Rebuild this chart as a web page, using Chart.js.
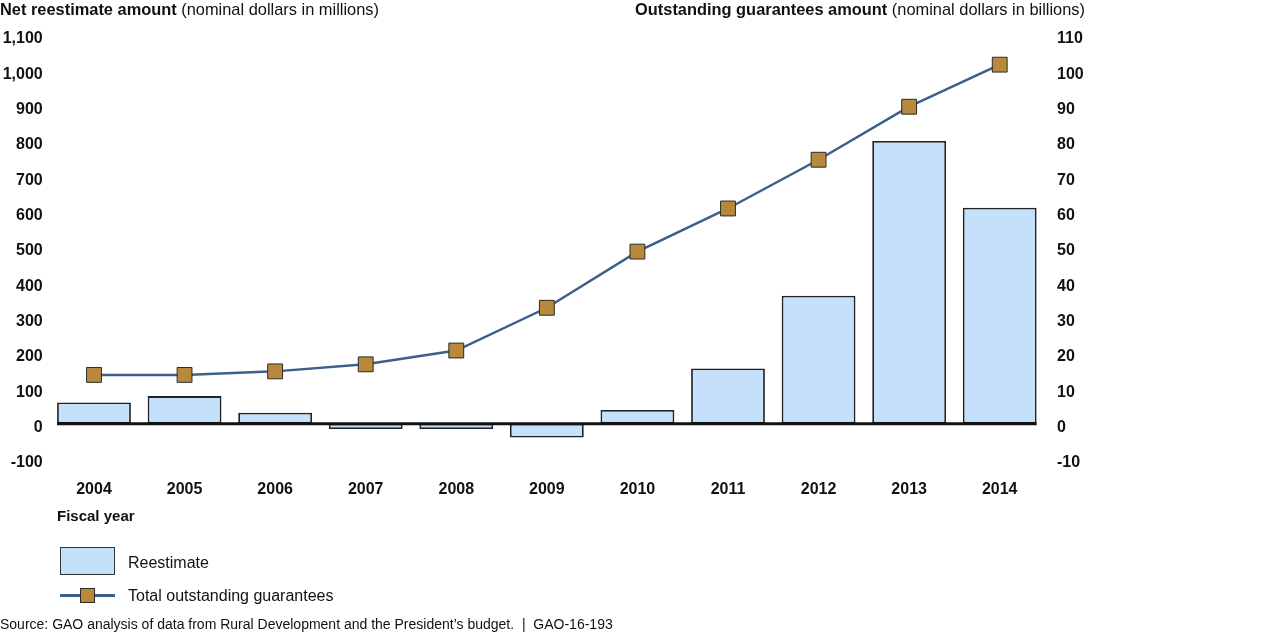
<!DOCTYPE html>
<html>
<head>
<meta charset="utf-8">
<script src="https://cdn.jsdelivr.net/npm/chart.js@4.4.0/dist/chart.umd.min.js"></script>
<style>
  body { margin: 0; background: #fff; font-family: "Liberation Sans", Arial, sans-serif; color: #111; }
  #wrap { position: relative; width: 1280px; height: 634px; overflow: hidden; }
  #c { position: absolute; left: 0; top: 0; }
  .txt { position: absolute; font-size: 16px; white-space: nowrap; line-height: 18px; }
  .b { font-weight: bold; }
</style>
</head>
<body>
<div id="wrap">
  <canvas id="c" width="1280" height="634"></canvas>
  <div class="txt" style="left:0; top:0; font-size:16.4px;"><span class="b">Net reestimate amount</span> (nominal dollars in millions)</div>
  <div class="txt" style="right:195px; top:0; font-size:16.4px;"><span class="b">Outstanding guarantees amount</span> (nominal dollars in billions)</div>
  <div class="txt b" style="left:57px; top:507px; font-size:15px;">Fiscal year</div>
  <div style="position:absolute; left:60px; top:547px; width:53px; height:26px; background:#c5e0fa; border:1.5px solid #333;"></div>
  <div class="txt" style="left:128px; top:554px;">Reestimate</div>
  <div style="position:absolute; left:60px; top:594px; width:55px; height:2.5px; background:#3c5f8c;"></div>
  <div style="position:absolute; left:80px; top:588px; width:13px; height:13px; background:#b8893b; border:1px solid #2b2b2b;"></div>
  <div class="txt" style="left:128px; top:587px;">Total outstanding guarantees</div>
  <div class="txt" style="left:0; top:616px; font-size:14px; line-height:16px;">Source: GAO analysis of data from Rural Development and the President’s budget.&nbsp; |&nbsp; GAO-16-193</div>
</div>
<script>
// fiscal years on the x axis
var years = ['2004', '2005', '2006', '2007', '2008', '2009', '2010', '2011', '2012', '2013', '2014'];
// net reestimate, millions of dollars (left axis)
var reestimate = [60, 78, 31, -15, -15, -39, 39, 156, 362, 800, 611];
// total outstanding guarantees, billions of dollars (right axis)
var outstanding = [13.8, 13.8, 14.8, 16.8, 20.7, 32.8, 48.7, 60.9, 74.7, 89.7, 101.6];

var tickFont = { family: '"Liberation Sans", Arial, sans-serif', size: 16, weight: 'bold' };

// thick black zero line, drawn across the bars only
var zeroLine = {
  id: 'zeroLine',
  afterDatasetDraw: function(chart, args) {
    if (args.index !== 0) return;
    var meta = chart.getDatasetMeta(0);
    var first = meta.data[0], last = meta.data[meta.data.length - 1];
    var y = chart.scales.y.getPixelForValue(0);
    var ctx = chart.ctx;
    ctx.save();
    ctx.strokeStyle = '#111';
    ctx.lineWidth = 3;
    ctx.beginPath();
    ctx.moveTo(first.x - first.width / 2, y);
    ctx.lineTo(last.x + last.width / 2, y);
    ctx.stroke();
    ctx.restore();
  }
};

var ctx = document.getElementById('c').getContext('2d');
var chart = new Chart(ctx, {
  type: 'bar',
  data: {
    labels: years,
    datasets: [{
      type: 'bar',
      label: 'Reestimate',
      data: reestimate,
      yAxisID: 'y',
      backgroundColor: '#c5e0fa',
      borderColor: '#222',
      borderWidth: 1.8,
      borderSkipped: false,
      barPercentage: 0.815,
      categoryPercentage: 1,
      order: 2
    }, {
      type: 'line',
      label: 'Total outstanding guarantees',
      data: outstanding,
      yAxisID: 'y2',
      borderColor: '#3c5f8c',
      borderWidth: 2.5,
      tension: 0,
      pointStyle: 'rect',
      pointRadius: 10.5,
      pointBackgroundColor: '#b8893b',
      pointBorderColor: '#2b2b2b',
      pointBorderWidth: 1,
      order: 1
    }]
  },
  options: {
    responsive: false,
    animation: false,
    layout: { padding: { top: 35, left: 0, right: 0, bottom: 0 } },
    plugins: { legend: { display: false }, tooltip: { enabled: false } },
    scales: {
      x: {
        grid: { display: false },
        border: { display: false },
        ticks: { color: '#111', font: tickFont, padding: 13 },
        afterFit: function(s) { s.height = 175; }
      },
      y: {
        position: 'left',
        min: -100,
        max: 1100,
        grid: { display: false, drawTicks: false },
        border: { display: false },
        ticks: { stepSize: 100, color: '#111', font: tickFont, padding: 6, labelOffset: 4 },
        afterFit: function(s) { s.width = 48.7; }
      },
      y2: {
        position: 'right',
        min: -10,
        max: 110,
        grid: { display: false, drawTicks: false },
        border: { display: false },
        ticks: { stepSize: 10, color: '#111', font: tickFont, padding: 12, labelOffset: 4 },
        afterFit: function(s) { s.width = 235; }
      }
    }
  },
  plugins: [zeroLine]
});
</script>
</body>
</html>
